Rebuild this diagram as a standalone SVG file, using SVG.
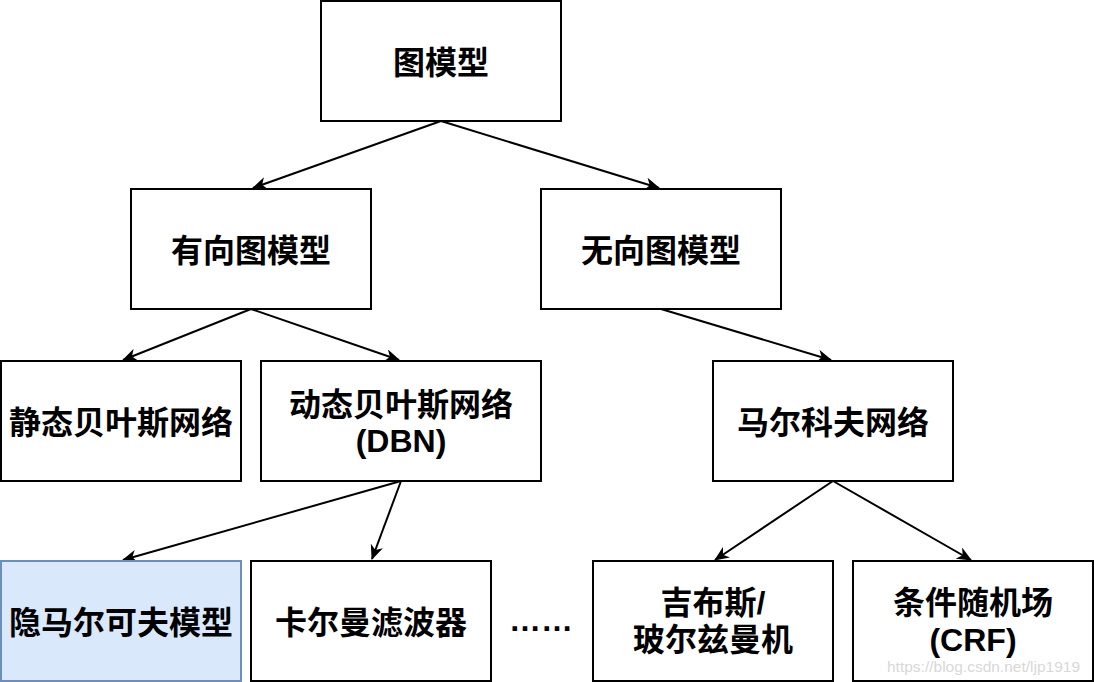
<svg xmlns="http://www.w3.org/2000/svg" width="1094" height="682" viewBox="0 0 1094 682">
<defs>
<style>
.box{fill:#ffffff;stroke:#000000;stroke-width:2}
.hl{fill:#dae8fc;stroke:#6c8ebf;stroke-width:2}
.t{font-family:"Liberation Sans","Noto Sans CJK SC",sans-serif;font-weight:bold;font-size:32px;fill:#000;text-anchor:middle;dominant-baseline:central}
.e{fill:none;stroke:#000;stroke-width:2;marker-end:url(#arr)}
.wm{font-family:"Liberation Sans",Arial,sans-serif;font-size:15.5px;fill:#d8d8d8}
</style>
<marker id="arr" viewBox="0 0 14 12" markerWidth="15" markerHeight="13" refX="13" refY="6" orient="auto" markerUnits="userSpaceOnUse">
<path d="M0,0 L14,6 L0,12 L4,6 Z" fill="#000"/>
</marker>
</defs>
<rect width="1094" height="682" fill="#ffffff"/>
<g id="connectors">
<line class="e" x1="441" y1="121" x2="253" y2="188"/>
<line class="e" x1="441" y1="121" x2="659" y2="188"/>
<line class="e" x1="251" y1="309" x2="123" y2="360"/>
<line class="e" x1="251" y1="309" x2="399" y2="360"/>
<line class="e" x1="661" y1="309" x2="831" y2="360"/>
<line class="e" x1="401" y1="481" x2="123" y2="560"/>
<line class="e" x1="401" y1="481" x2="372" y2="559"/>
<line class="e" x1="833" y1="481" x2="715" y2="560"/>
<line class="e" x1="833" y1="481" x2="971" y2="560"/>
</g>
<g id="n-root"><rect class="box" x="321" y="1" width="240" height="120"/><text class="t" x="441" y="63">图模型</text></g>
<g id="n-directed"><rect class="box" x="131" y="189" width="240" height="120"/><text class="t" x="251" y="251">有向图模型</text></g>
<g id="n-undirected"><rect class="box" x="541" y="189" width="240" height="120"/><text class="t" x="661" y="251">无向图模型</text></g>
<g id="n-static"><rect class="box" x="1" y="361" width="240" height="120"/><text class="t" x="121" y="423">静态贝叶斯网络</text></g>
<g id="n-dbn"><rect class="box" x="261" y="361" width="280" height="120"/><text class="t" x="401" y="405">动态贝叶斯网络</text><text class="t" x="401" y="441">(DBN)</text></g>
<g id="n-markov"><rect class="box" x="713" y="361" width="240" height="120"/><text class="t" x="833" y="423">马尔科夫网络</text></g>
<g id="n-hmm"><rect class="hl" x="1" y="561" width="240" height="120"/><text class="t" x="121" y="623">隐马尔可夫模型</text></g>
<g id="n-kalman"><rect class="box" x="251" y="561" width="240" height="120"/><text class="t" x="371" y="623">卡尔曼滤波器</text></g>
<g id="n-dots"><text class="t" x="541" y="620">……</text></g>
<g id="n-gibbs"><rect class="box" x="593" y="561" width="240" height="120"/><text class="t" x="713" y="603">吉布斯/</text><text class="t" x="713" y="640">玻尔兹曼机</text></g>
<g id="n-crf"><rect class="box" x="853" y="561" width="240" height="120"/><text class="t" x="973" y="603">条件随机场</text><text class="t" x="973" y="640">(CRF)</text></g>
<text class="wm" x="887" y="672">https://blog.csdn.net/ljp1919</text>
</svg>
